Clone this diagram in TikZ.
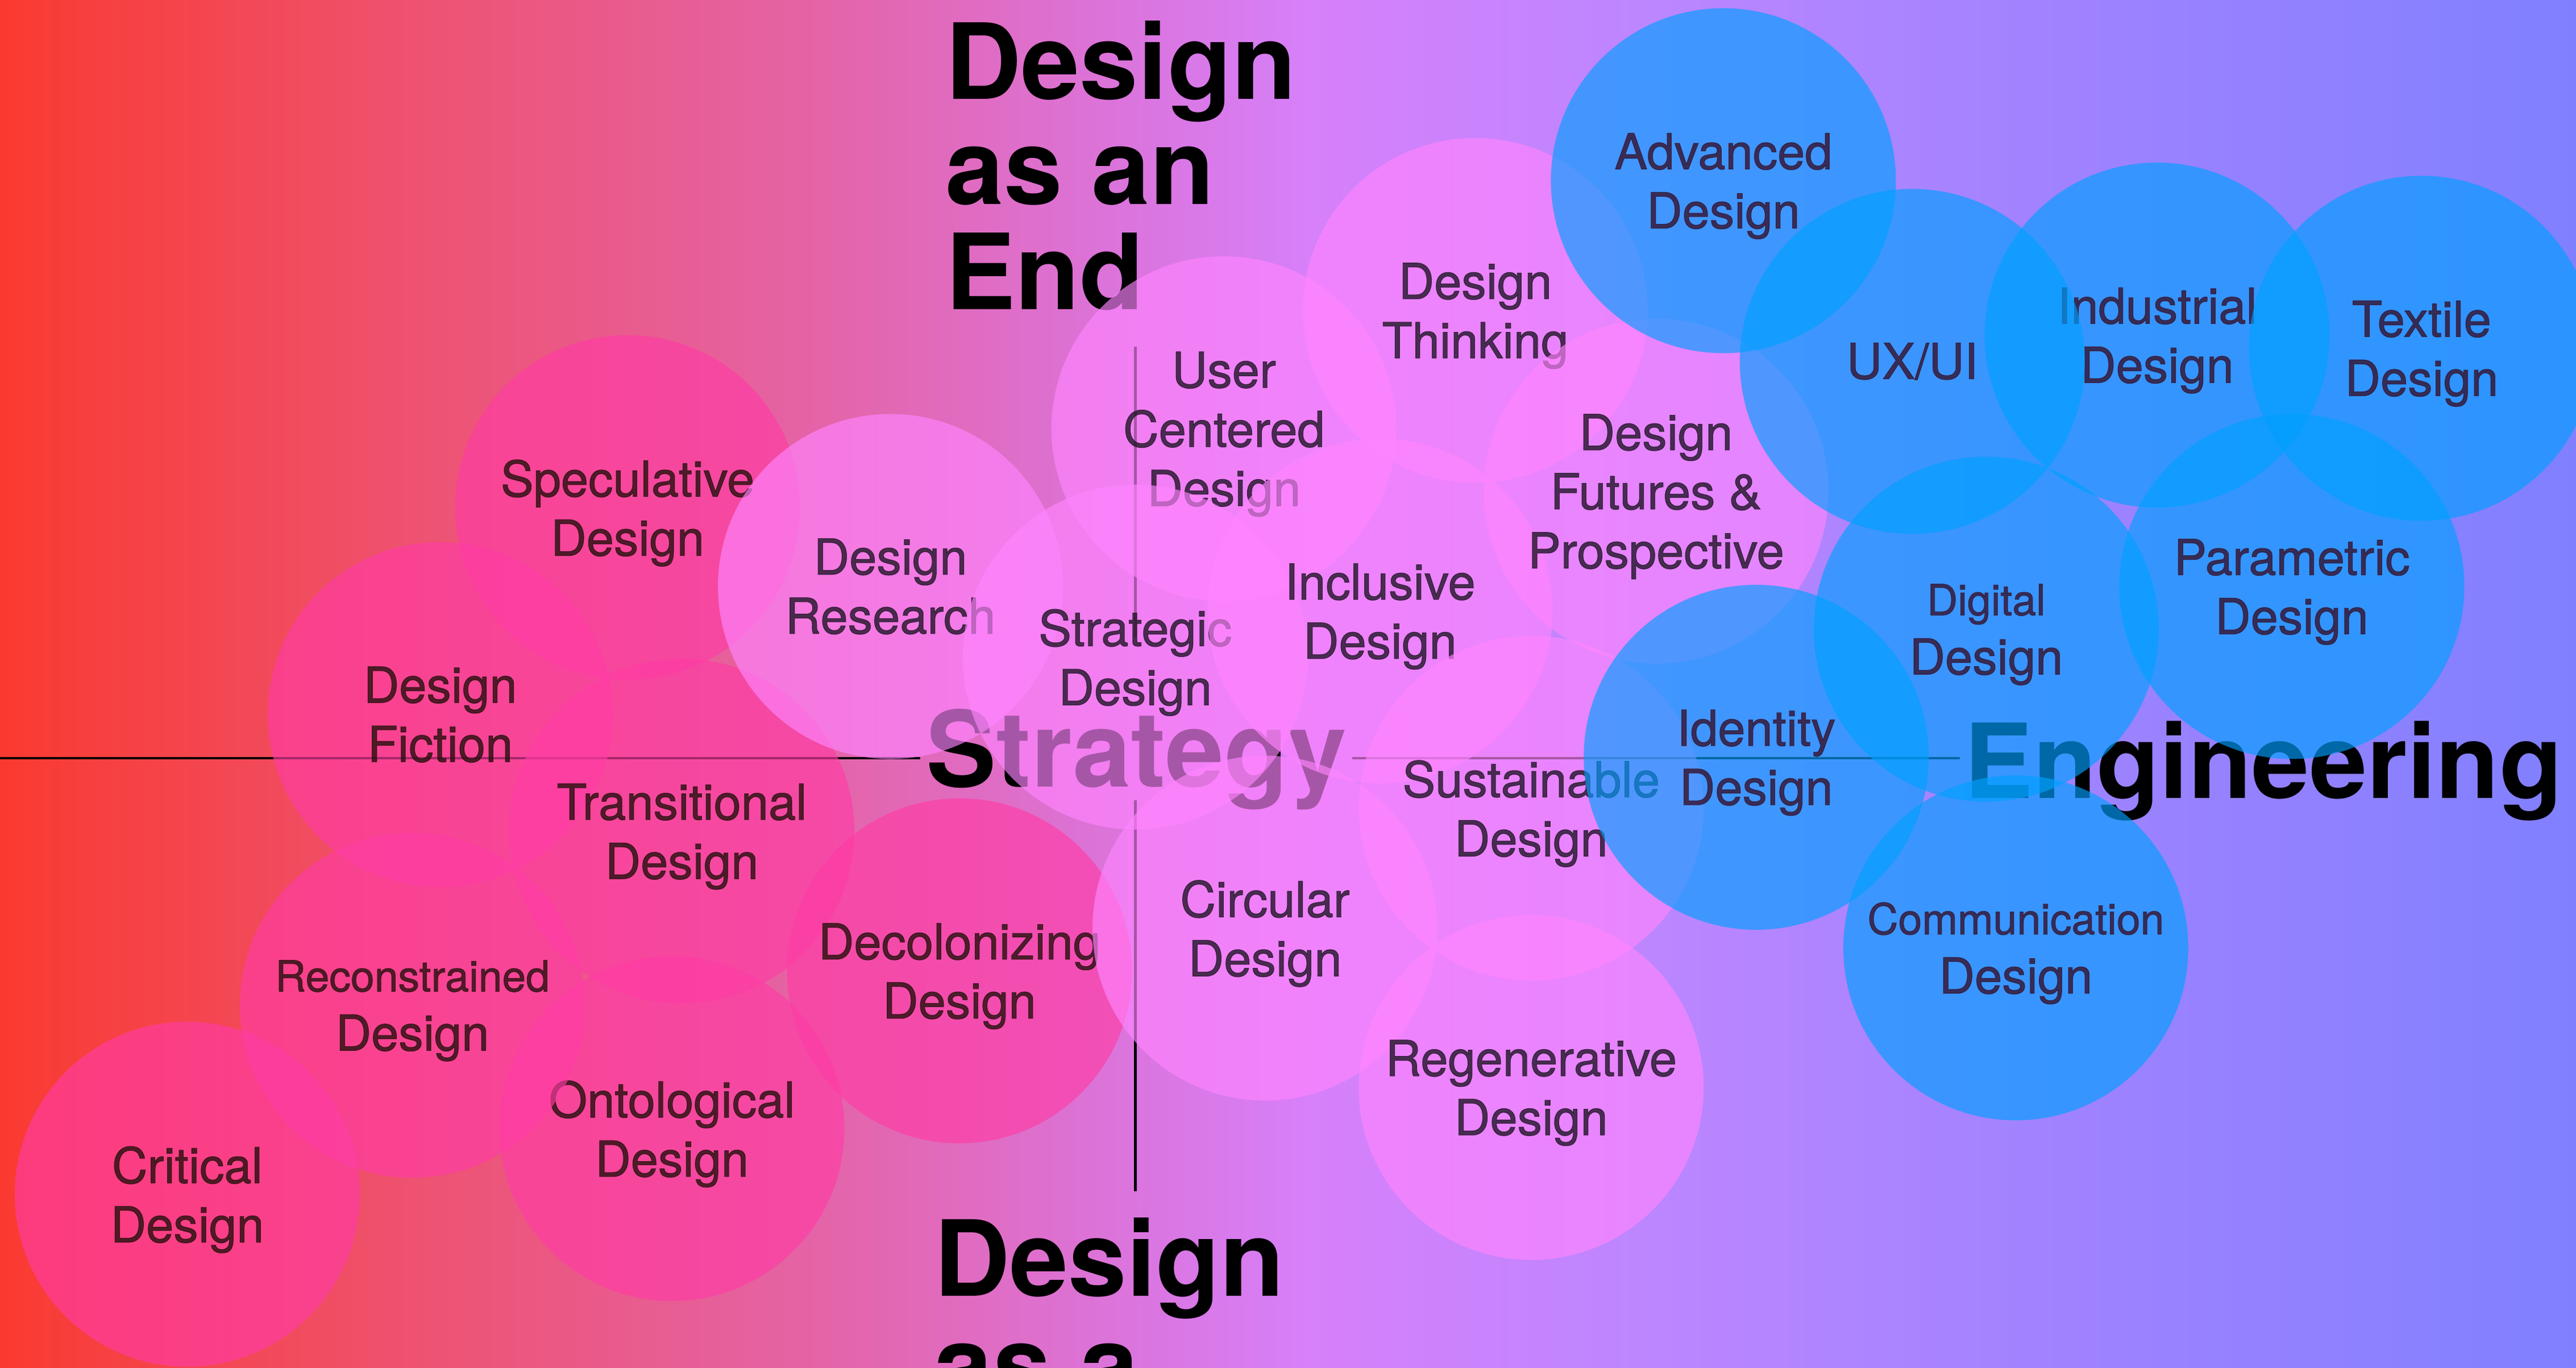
\documentclass[tikz,border=0pt]{standalone}
\usepackage{fontspec}
\setmainfont{TeX Gyre Heros}
\newfontfamily\circfont{TeX Gyre Heros}[FakeBold=1.2]
\definecolor{bg0}{RGB}{250,58,48}
\definecolor{bg1}{RGB}{238,82,112}
\definecolor{bg2}{RGB}{228,100,168}
\definecolor{bg3}{RGB}{218,118,226}
\definecolor{bg4}{RGB}{214,128,250}
\definecolor{bg5}{RGB}{188,134,255}
\definecolor{bg6}{RGB}{160,130,255}
\definecolor{bg7}{RGB}{128,128,255}
\definecolor{pinkc}{RGB}{255,60,165}
\definecolor{magc}{RGB}{255,133,255}
\definecolor{bluec}{RGB}{0,160,255}
\definecolor{pinktext}{RGB}{38,16,13}
\definecolor{magtext}{RGB}{32,21,39}
\definecolor{bluetext}{RGB}{53,18,46}
\pgfdeclarehorizontalshading{bgshade}{100bp}{color(0bp)=(bg0); color(25bp)=(bg0); color(33bp)=(bg1); color(41bp)=(bg2); color(47.5bp)=(bg3); color(50.5bp)=(bg4); color(57bp)=(bg5); color(65bp)=(bg6); color(75bp)=(bg7); color(100bp)=(bg7)}
\begin{document}
\begin{tikzpicture}[x=1pt,y=-1pt,
  bubble/.style={circle, minimum size=210pt, inner sep=0pt, outer sep=0pt, fill=#1, fill opacity=0.65},
  lbl/.style={align=center, inner sep=0pt, text=#1, text opacity=0.8, font=\circfont\fontsize{30}{36}\selectfont},
  big/.style={inner sep=0pt, text=black, font=\fontsize{64}{64}\selectfont\bfseries},
  axisline/.style={line width=1.6pt, black}]
\clip (0,0) rectangle (1568,832.44);
\shade[shading=bgshade] (0,0) rectangle (1568,832.44);
% axes
\coordinate (hL) at (0,461.5);
\coordinate (hLe) at (560,461.5);
\coordinate (hRs) at (823,461.5);
\coordinate (hRe) at (1193,461.5);
\coordinate (vT) at (691,211);
\coordinate (vTe) at (691,388);
\coordinate (vBs) at (691,487);
\coordinate (vB) at (691,725);
\draw[axisline] (hL) -- (hLe);
\draw[axisline] (hRs) -- (hRe);
\draw[axisline] (vT) -- (vTe);
\draw[axisline] (vBs) -- (vB);
% big labels
\node[big, anchor=north west, align=left] (endlbl) at (575.3,12.5) {Design\\as an\\End};
\node[big, anchor=north west, align=left] (meanslbl) at (568.3,741) {Design\\as a};
\node[big, anchor=base west] (strat) at (563.5,479) {Strategy};
\node[big, anchor=base west, font=\fontsize{63}{63}\selectfont\bfseries] (eng) at (1195.5,486) {Engineering};
% pink bubbles
\node[bubble=pinkc] (c1) at (382,309) {};
\node[lbl=pinktext] (t1) at (382,312.3) {Speculative\\Design};
\node[bubble=pinkc] (c2) at (268,435) {};
\node[lbl=pinktext] (t2) at (268,435) {Design\\Fiction};
\node[bubble=pinkc] (c3) at (415,506) {};
\node[lbl=pinktext] (t3) at (415,509.3) {Transitional\\Design};
\node[bubble=pinkc] (c4) at (409,687) {};
\node[lbl=pinktext] (t4) at (409,690.3) {Ontological\\Design};
\node[bubble=pinkc] (c5) at (251,612) {};
\node[lbl=pinktext] (t5) at (251,615.3) {{\fontsize{26}{36}\selectfont Reconstrained}\\Design};
\node[bubble=pinkc] (c6) at (114,727) {};
\node[lbl=pinktext] (t6) at (114,730.3) {Critical\\Design};
\node[bubble=pinkc] (c7) at (584,591) {};
\node[lbl=pinktext] (t7) at (584,594.3) {Decolonizing\\Design};
% magenta bubbles
\node[bubble=magc] (m1) at (898,189) {};
\node[lbl=magtext] (u1) at (898,192.3) {Design\\Thinking};
\node[bubble=magc] (m2) at (745,261) {};
\node[lbl=magtext] (u2) at (745,264.3) {User\\Centered\\Design};
\node[bubble=magc] (m3) at (542,357) {};
\node[lbl=magtext] (u3) at (542,357) {Design\\Research};
\node[bubble=magc] (m4) at (691,400) {};
\node[lbl=magtext] (u4) at (691,403.3) {Strategic\\Design};
\node[bubble=magc] (m5) at (840,372) {};
\node[lbl=magtext] (u5) at (840,375.3) {Inclusive\\Design};
\node[bubble=magc] (m6) at (1008,299) {};
\node[lbl=magtext] (u6) at (1008,302.3) {Design\\Futures \&\\Prospective};
\node[bubble=magc] (m7) at (932,492) {};
\node[lbl=magtext] (u7) at (932,495.3) {Sustainable\\Design};
\node[bubble=magc] (m8) at (770,565) {};
\node[lbl=magtext] (u8) at (770,568.3) {Circular\\Design};
\node[bubble=magc] (m9) at (932,662) {};
\node[lbl=magtext] (u9) at (932,665.3) {Regenerative\\Design};
% blue bubbles
\node[bubble=bluec] (b1) at (1049,110) {};
\node[lbl=bluetext] (v1) at (1049,113.3) {Advanced\\Design};
\node[bubble=bluec] (b2) at (1313,204) {};
\node[lbl=bluetext] (v2) at (1313,207.3) {Industrial\\Design};
\node[bubble=bluec] (b3) at (1164,220) {};
\node[lbl=bluetext] (v3) at (1164,220) {UX/UI};
\node[bubble=bluec] (b4) at (1474,212) {};
\node[lbl=bluetext] (v4) at (1474,215.3) {Textile\\Design};
\node[bubble=bluec] (b5) at (1395,357) {};
\node[lbl=bluetext] (v5) at (1395,360.3) {Parametric\\Design};
\node[bubble=bluec] (b6) at (1209,383) {};
\node[lbl=bluetext] (v6) at (1209,386.3) {{\fontsize{26}{36}\selectfont Digital}\\Design};
\node[bubble=bluec] (b7) at (1069,461) {};
\node[lbl=bluetext] (v7) at (1069,464.3) {Identity\\Design};
\node[bubble=bluec] (b8) at (1227,577) {};
\node[lbl=bluetext] (v8) at (1227,580.3) {{\fontsize{26}{36}\selectfont Communication}\\Design};
\end{tikzpicture}
\end{document}
